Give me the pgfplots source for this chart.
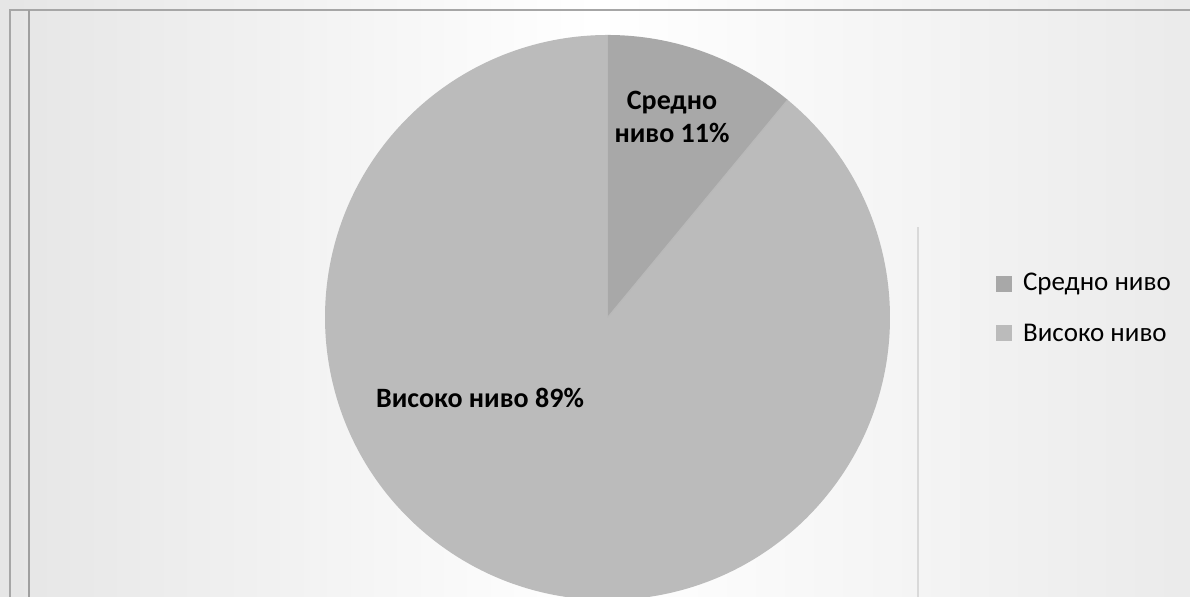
\documentclass[border=0pt]{standalone}
\usepackage{pgfplots}
\pgfplotsset{compat=1.18}
\usepackage{pgfplotstable}
\usepackage{fontspec}
\setmainfont{Carlito}
\definecolor{sredno}{gray}{0.66}
\definecolor{visoko}{gray}{0.735}
\definecolor{bgside}{gray}{0.90}
\pgfplotstableread{
label value
Sredno 11
Visoko 89
}\piedata
\pgfplotstablegetelem{0}{value}\of\piedata \let\vA\pgfplotsretval
\pgfplotstablegetelem{1}{value}\of\piedata \let\vB\pgfplotsretval
\pgfmathsetmacro{\angA}{360*\vA/(\vA+\vB)}
\pgfmathsetmacro{\endA}{90-\angA}
\pgfmathsetmacro{\endB}{90-360}
\begin{document}
\begin{tikzpicture}
\begin{axis}[x=0.5pt,y=0.5pt,xmin=0,xmax=1190,ymin=0,ymax=597,
  hide axis,scale only axis,clip=true]
% background
\fill[left color=bgside,right color=bgside!80,middle color=white] (axis cs:0,0) rectangle (axis cs:1190,597);
\draw[gray!70,line width=0.8pt] (axis cs:10,0) -- (axis cs:10,587) -- (axis cs:1190,587);
\draw[gray!75,line width=1.2pt] (axis cs:29,0) -- (axis cs:29,587);
\draw[gray!30,line width=0.6pt] (axis cs:918,0) -- (axis cs:918,370);
% pie
\fill[visoko] (axis cs:607.5,279.5) -- ++(\endA:141.25pt) arc[start angle=\endA, end angle=\endB, radius=141.25pt] -- cycle;
\fill[sredno] (axis cs:607.5,279.5) -- ++(90:141.25pt) arc[start angle=90, end angle=\endA, radius=141.25pt] -- cycle;
\draw[gray!55,line width=0.5pt] (axis cs:607.5,279.5) -- ++(90:141.25pt);
\draw[gray!55,line width=0.5pt] (axis cs:607.5,279.5) -- ++(\endA:141.25pt);
% labels
\node[font=\fontsize{14}{16.5}\selectfont\bfseries,align=center] at (axis cs:672,480) {Средно\\ниво 11\%};
\node[font=\fontsize{14}{16.5}\selectfont\bfseries] at (axis cs:480,199) {Високо ниво 89\%};
% legend
\fill[sredno] (axis cs:996,305) rectangle (axis cs:1012,321);
\fill[visoko] (axis cs:996,256) rectangle (axis cs:1012,272);
\node[anchor=west,font=\fontsize{13.5}{16}\selectfont] at (axis cs:1016,313) {Средно ниво};
\node[anchor=west,font=\fontsize{13.5}{16}\selectfont] at (axis cs:1016,264) {Високо ниво};
\end{axis}
\end{tikzpicture}
\end{document}
